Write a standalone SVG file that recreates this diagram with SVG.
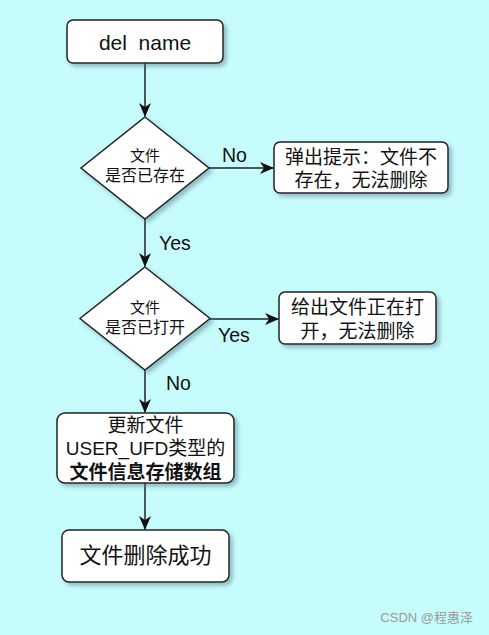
<svg xmlns="http://www.w3.org/2000/svg" width="489" height="635" viewBox="0 0 489 635">
<style>
.n{fill:#fff;stroke:#222;stroke-width:1.5;filter:url(#sh)}
.c{fill:none;stroke:#222;stroke-width:1.5;marker-end:url(#ah)}
.t{font-family:"Liberation Sans","Noto Sans CJK SC",sans-serif;fill:#111;text-anchor:middle;dominant-baseline:central}
.lb{font-family:"Liberation Sans",sans-serif;font-size:19.5px;fill:#111}
</style>
<defs>
<filter id="sh" x="-10%" y="-10%" width="130%" height="140%">
<feDropShadow dx="3" dy="3" stdDeviation="2" flood-color="#4a6a80" flood-opacity="0.45"/>
</filter>
<marker id="ah" viewBox="0 0 14 12" refX="13" refY="6" markerWidth="14" markerHeight="12" markerUnits="userSpaceOnUse" orient="auto">
<path d="M0,0 L14,6 L0,12 L4,6 Z" fill="#111"/>
</marker>
</defs>
<rect width="489" height="635" fill="#C7FCFC"/>
<g id="connectors">
<line class="c" x1="145" y1="63" x2="145" y2="116"/>
<line class="c" x1="209" y1="168" x2="273" y2="168"/>
<line class="c" x1="145" y1="219" x2="145" y2="266"/>
<line class="c" x1="210" y1="319" x2="278" y2="319"/>
<line class="c" x1="145" y1="370" x2="145" y2="412"/>
<line class="c" x1="145" y1="483" x2="145" y2="529"/>
<text class="lb" x="222" y="162">No</text>
<text class="lb" x="159" y="250">Yes</text>
<text class="lb" x="218" y="342">Yes</text>
<text class="lb" x="166" y="390">No</text>
</g>
<g id="start">
<rect class="n" x="67" y="20" width="156" height="43" rx="6"/>
<text class="t" x="145" y="42" font-size="21">del&#160; name</text>
</g>
<g id="exists">
<path class="n" d="M145,117 L209,168 L145,219 L81,168 Z"/>
<text class="t" x="145" y="155" font-size="15">文件</text>
<text class="t" x="145" y="175" font-size="16">是否已存在</text>
</g>
<g id="notexist">
<rect class="n" x="274" y="142" width="174" height="51" rx="6"/>
<text class="t" x="361" y="157" font-size="19">弹出提示：文件不</text>
<text class="t" x="361" y="180" font-size="19">存在，无法删除</text>
</g>
<g id="opened">
<path class="n" d="M145,267 L210,318.5 L145,370 L80,318.5 Z"/>
<text class="t" x="145" y="307" font-size="15">文件</text>
<text class="t" x="145" y="327" font-size="16">是否已打开</text>
</g>
<g id="isopen">
<rect class="n" x="279" y="292" width="157" height="52" rx="6"/>
<text class="t" x="357.5" y="307" font-size="19">给出文件正在打</text>
<text class="t" x="357.5" y="331" font-size="19">开，无法删除</text>
</g>
<g id="update">
<rect class="n" x="57" y="413" width="177" height="70" rx="8"/>
<text class="t" x="145.5" y="425" font-size="19">更新文件</text>
<text class="t" x="145.5" y="448" font-size="19">USER_UFD类型的</text>
<text class="t" x="145.5" y="472" font-size="19" font-weight="bold">文件信息存储数组</text>
</g>
<g id="done">
<rect class="n" x="62" y="530" width="167" height="52" rx="7"/>
<text class="t" x="145.5" y="555" font-size="22">文件删除成功</text>
</g>
<text x="473" y="622" font-family="Liberation Sans,Noto Sans CJK SC,sans-serif" font-size="13" fill="#999" text-anchor="end">CSDN @程惠泽</text>
</svg>
